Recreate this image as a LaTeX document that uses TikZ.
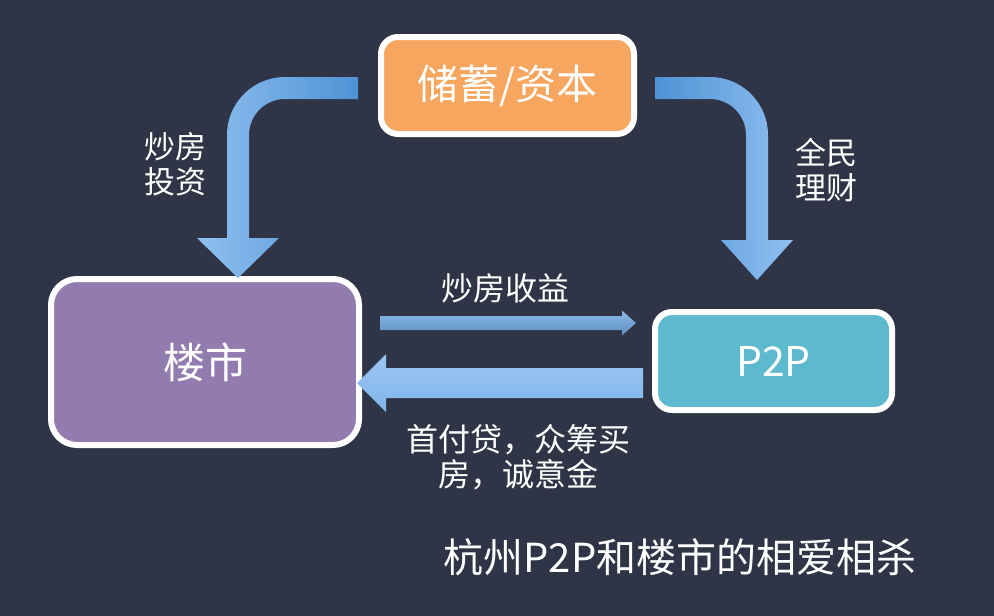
\documentclass[tikz,border=0pt]{standalone}
\usepackage{fontspec}
\setmainfont{Noto Sans CJK SC}
\definecolor{bg}{HTML}{2F3546}
\definecolor{orangeF}{HTML}{F6A65E}
\definecolor{purpleF}{HTML}{927BAE}
\definecolor{tealF}{HTML}{5DB9CE}
\definecolor{arLight}{HTML}{90C0F1}
\definecolor{arDark}{HTML}{4E92D4}
\definecolor{arMid}{HTML}{6EA8E2}
\begin{document}
\begin{tikzpicture}[x=1pt,y=-1pt,
  box/.style={draw=white,line width=6pt,text=white,inner sep=0pt},
  lbl/.style={text=white,align=center,inner sep=0pt,font=\fontsize{31}{35}\selectfont}]
\fill[bg] (0,0) rectangle (994,616);
\useasboundingbox (0,0) rectangle (994,616);

% boxes
\node[box,fill=orangeF,minimum width=253pt,minimum height=97pt,rounded corners=17pt,
  font=\fontsize{41}{49}\selectfont] (cap) at (507.5,85.5) {储蓄/资本};
\node[box,fill=purpleF,minimum width=308pt,minimum height=166pt,rounded corners=26pt,
  font=\fontsize{42}{50}\selectfont] (lou) at (205,362) {楼市};
\node[box,fill=tealF,minimum width=237pt,minimum height=98pt,rounded corners=17pt,
  font=\fontsize{41}{49}\selectfont] (p2p) at (773.5,361) {P2P};

% curved arrow left
\shade[left color=arLight,right color=arDark]
  (358,77) -- (285,77) arc[start angle=270,end angle=180,radius=58]
  -- (227,238) -- (197,238) -- (238,278) -- (279,238) -- (249,238)
  -- (249,135) arc[start angle=180,end angle=270,radius=36]
  -- (358,99) -- cycle;
% curved arrow right
\shade[left color=arDark,right color=arLight]
  (655,77) -- (710,77) arc[start angle=270,end angle=360,radius=58]
  -- (768,240) -- (793,240) -- (757,280) -- (721,240) -- (746,240)
  -- (746,135) arc[start angle=0,end angle=-90,radius=36]
  -- (655,99) -- cycle;
% thin arrow right
\shade[top color=arMid!80!white,bottom color=arMid!85!black]
  (380,316) -- (622,316) -- (622,310.5) -- (636,323) -- (622,335.5)
  -- (622,330) -- (380,330) -- cycle;
% thick arrow left
\shade[top color=arLight!90!white,bottom color=arLight!75!arDark]
  (643,368) -- (386,368) -- (386,354) -- (357,383) -- (386,412)
  -- (386,398) -- (643,398) -- cycle;

% labels
\node[lbl] (l1) at (175,164) {炒房\\投资};
\node[lbl] (l2) at (826,170) {全民\\理财};
\node[lbl,font=\fontsize{32}{35}\selectfont] (l3) at (505,288) {炒房收益};
\node[lbl,font=\fontsize{32}{35}\selectfont] (l4) at (518,457) {首付贷，众筹买\\房，诚意金};
\node[text=white,inner sep=0pt,font=\fontsize{40}{48}\selectfont] (title) at (680,557) {杭州P2P和楼市的相爱相杀};
\end{tikzpicture}
\end{document}
